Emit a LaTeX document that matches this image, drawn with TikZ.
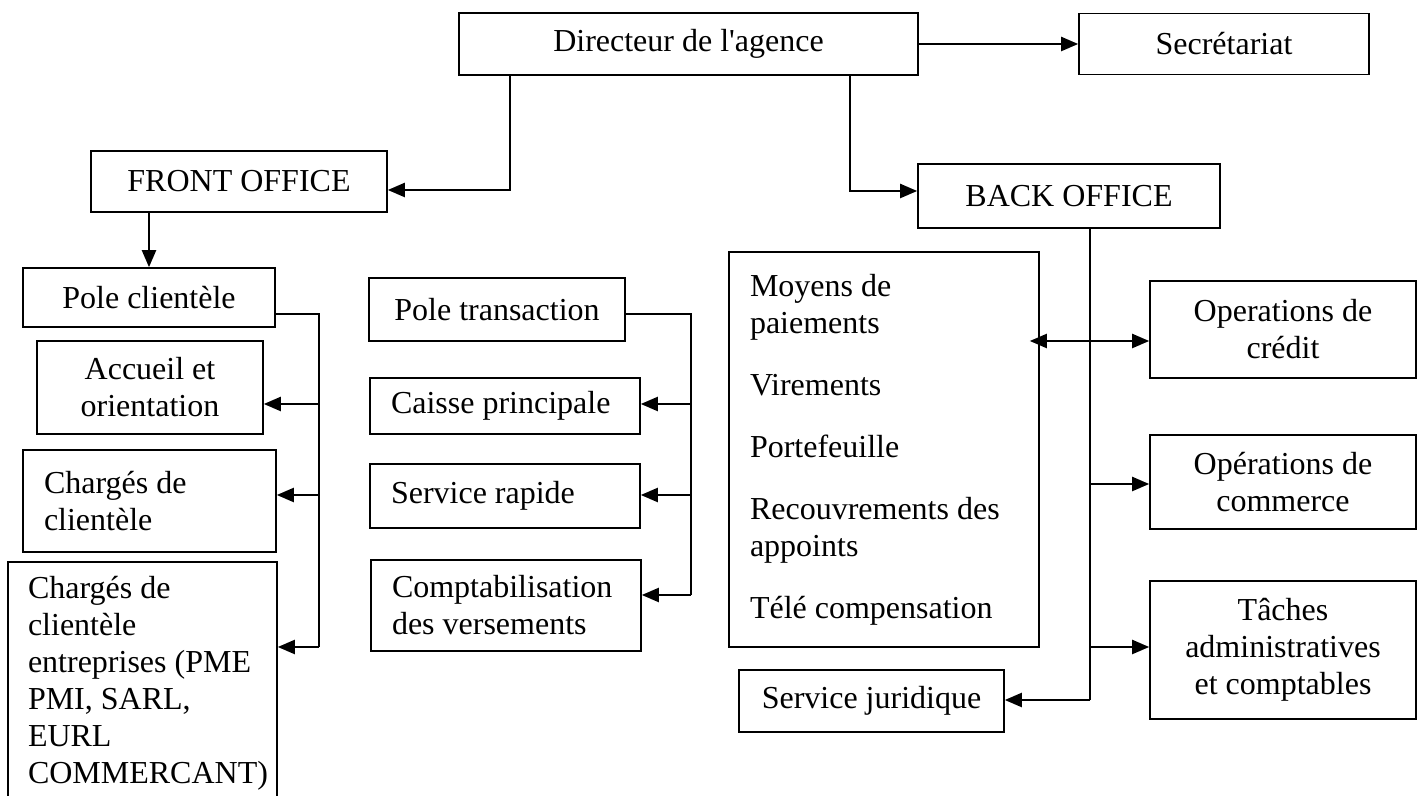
\documentclass[tikz,border=0pt]{standalone}
\usepackage{fontspec}
\setmainfont{Liberation Serif}
\usepackage{tikz}
\usetikzlibrary{arrows.meta,positioning,calc}
\definecolor{Ink}{HTML}{000000}

\begin{document}
\begin{tikzpicture}[x=0.5pt,y=-0.5pt,
    box/.style={draw=Ink,line width=0.8pt,align=center,inner sep=2pt,
      font=\fontsize{16}{18.5}\selectfont},
    lbox/.style={box,align=flush left,inner xsep=10.5pt},
    arr/.style={Ink,line width=1.1pt,-{Triangle[length=8.5pt,width=7pt]}},
    dbl/.style={arr,{Triangle[length=8.5pt,width=7pt]}-{Triangle[length=8.5pt,width=7pt]}},
    bus/.style={Ink,line width=0.6pt}]
  \useasboundingbox (0,0) rectangle (1421,796);
  % top level
  \node[box,minimum width=229.5pt,minimum height=31pt] (dir) at (688.5,44) {Directeur de l\textquotesingle agence};
  \node[box,minimum width=145pt,minimum height=30.5pt] (secr) at (1224,44) {Secrétariat};
  \node[box,minimum width=148pt,minimum height=30.5pt] (front) at (239,181.5) {FRONT OFFICE};
  \node[box,minimum width=151pt,minimum height=32pt] (back) at (1069,196) {BACK OFFICE};
  % front office
  \node[box,minimum width=126pt,minimum height=29.5pt] (pcli) at (149,297.5) {Pole clientèle};
  \node[box,minimum width=113pt,minimum height=46.5pt] (accueil) at (150,387.5) {Accueil et\\orientation};
  \node[lbox,text width=105.5pt,minimum height=51pt] (charg) at (149.5,501) {Chargés de\\clientèle};
  \node[lbox,anchor=north,inner xsep=10pt,inner ysep=7pt,text width=114.5pt] (chent) at (142.5,561)
    {Chargés de\\clientèle\\entreprises (PME\\PMI, SARL,\\EURL\\COMMERCANT)\\[6pt]};
  \node[box,minimum width=128pt,minimum height=31.5pt] (ptrans) at (497,309.5) {Pole transaction};
  \node[lbox,text width=114pt,minimum height=28pt] (caisse) at (505,406) {Caisse principale};
  \node[lbox,text width=114pt,minimum height=32pt] (rapide) at (505,496) {Service rapide};
  \node[lbox,text width=114pt,minimum height=45.5pt] (compta) at (506,605.5) {Comptabilisation\\des versements};
  % back office
  \node[lbox,text width=134pt,minimum height=197.5pt] (moyens) at (884,449.5)
    {Moyens de\\paiements\\[12.5pt]Virements\\[12.5pt]Portefeuille\\[12.5pt]Recouvrements des\\appoints\\[12.5pt]Télé compensation};
  \node[box,minimum width=133pt,minimum height=48.5pt] (credit) at (1283,329.5) {Operations de\\crédit};
  \node[box,minimum width=133pt,minimum height=47pt] (commerce) at (1283,482) {Opérations de\\commerce};
  \node[box,minimum width=133pt,minimum height=69pt] (taches) at (1283,650) {Tâches\\administratives\\et comptables};
  \node[box,minimum width=132.5pt,minimum height=31pt] (jurid) at (871.5,701) {Service juridique};
  % links
  \draw[arr] (dir.east) -- (secr.west);
  \draw[arr] (dir.south -| 510,0) |- (front.east |- 0,190);
  \draw[arr] (dir.south -| 850,0) |- (back.west |- 0,191);
  \draw[arr] (front.south -| pcli.north) -- (pcli.north);
  \coordinate (cliBus) at (319,647);
  \coordinate (trBus) at (691,595);
  \coordinate (bkBus) at (1090,700);
  \draw[bus] (pcli.east |- 0,314) -| (cliBus);
  \foreach \n/\y in {accueil/404,charg/495,chent/647}
    \draw[arr] (cliBus |- 0,\y) -- (\n.east |- 0,\y);
  \draw[bus] (ptrans.east |- 0,314) -| (trBus);
  \foreach \n/\y in {caisse/404,rapide/495,compta/595}
    \draw[arr] (trBus |- 0,\y) -- (\n.east |- 0,\y);
  \draw[bus] (back.south -| bkBus) -- (bkBus);
  \draw[dbl,shorten <=-5pt] (moyens.east |- 0,341) -- (credit.west |- 0,341);
  \foreach \n/\y in {commerce/484,taches/647}
    \draw[arr] (bkBus |- 0,\y) -- (\n.west |- 0,\y);
  \draw[arr] (bkBus) -- (jurid.east |- bkBus);
\end{tikzpicture}
\end{document}
